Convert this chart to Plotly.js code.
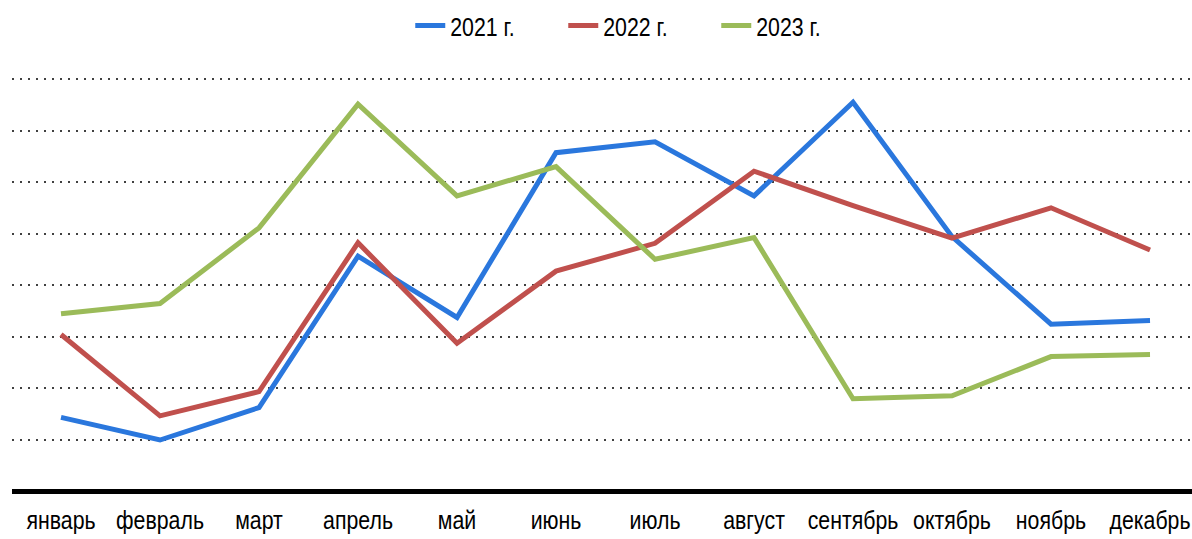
<!DOCTYPE html>
<html>
<head>
<meta charset="utf-8">
<script src="https://cdn.plot.ly/plotly-3.0.1.min.js"></script>
<style>
  html, body { margin: 0; padding: 0; background: #fff; }
  #chartDiv { width: 1192px; height: 539px; }
</style>
</head>
<body>
<div id="chartDiv"></div>
<script>
var months = ['январь', 'февраль', 'март', 'апрель', 'май', 'июнь',
              'июль', 'август', 'сентябрь', 'октябрь', 'ноябрь', 'декабрь'];

var y2021 = [1.43, 0.99, 1.62, 4.56, 3.37, 6.57, 6.78, 5.73, 7.55, 4.94, 3.24, 3.31];
var y2022 = [3.04, 1.46, 1.93, 4.82, 2.87, 4.27, 4.81, 6.21, 5.54, 4.91, 5.50, 4.68];
var y2023 = [3.44, 3.64, 5.11, 7.51, 5.73, 6.30, 4.50, 4.92, 1.79, 1.85, 2.61, 2.65];

var seriesNames = ['2021 г.', '2022 г.', '2023 г.'];
var seriesColors = ['#2a77dd', '#c0504d', '#9bbb59'];

var fontFamily = '"Liberation Sans", Arial, sans-serif';

function makeTrace(i, ys) {
  return {
    type: 'scatter',
    mode: 'lines',
    name: seriesNames[i],
    x: months,
    y: ys,
    line: { color: seriesColors[i], width: 5 },
    hoverinfo: 'x+y+name'
  };
}

var data = [makeTrace(0, y2021), makeTrace(1, y2022), makeTrace(2, y2023)];

var layout = {
  width: 1192,
  height: 539,
  margin: { l: 12, r: 0, t: 60, b: 48, autoexpand: false },
  paper_bgcolor: '#ffffff',
  plot_bgcolor: '#ffffff',
  font: { family: fontFamily, size: 26, color: '#000' },
  showlegend: true,
  legend: {
    orientation: 'h',
    x: 0.532,
    xanchor: 'center',
    y: 1.08,
    yanchor: 'middle',
    font: { family: fontFamily, size: 26, color: '#000' },
    itemwidth: 30,
    entrywidth: 108
  },
  xaxis: {
    type: 'category',
    range: [-0.495, 11.424],
    showgrid: false,
    zeroline: false,
    showline: false,
    ticks: '',
    tickangle: 0,
    ticklabelstandoff: 11,
    tickfont: { family: fontFamily, size: 26, color: '#000' },
    fixedrange: true
  },
  yaxis: {
    range: [0, 8.37],
    dtick: 1,
    showticklabels: false,
    showgrid: true,
    gridcolor: '#404040',
    gridwidth: 2,
    griddash: '2px,6px',
    zeroline: true,
    zerolinecolor: '#000',
    zerolinewidth: 5,
    showline: false,
    ticks: '',
    fixedrange: true
  }
};

// the original uses a narrow face; squeeze the text horizontally round its own centre
function narrowText(gd) {
  var texts = gd.querySelectorAll('.xtick text, .legendtext');
  texts.forEach(function (t) {
    var box = t.getBBox();
    var anchor = t.getAttribute('text-anchor');
    var cx = anchor === 'start' ? box.x : box.x + box.width / 2;
    var old = t.getAttribute('transform') || '';
    t.setAttribute('transform', old + ' translate(' + cx + ',0) scale(0.82,1) translate(' + (-cx) + ',0)');
  });
}

Plotly.newPlot('chartDiv', data, layout, { displayModeBar: false, staticPlot: true })
  .then(narrowText);
</script>
</body>
</html>
